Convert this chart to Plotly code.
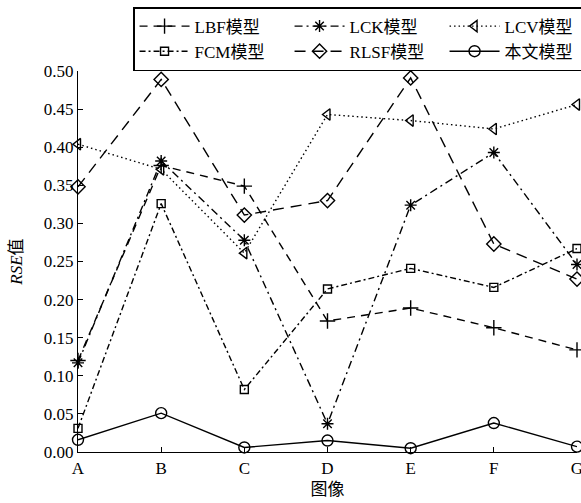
import plotly.graph_objects as go

categories = ["A", "B", "C", "D", "E", "F", "G"]
lbf = [0.120, 0.376, 0.349, 0.172, 0.189, 0.163, 0.134]
lck = [0.117, 0.382, 0.278, 0.037, 0.324, 0.393, 0.246]
lcv = [0.404, 0.371, 0.261, 0.443, 0.435, 0.424, 0.456]
fcm = [0.031, 0.326, 0.082, 0.214, 0.241, 0.216, 0.267]
rlsf = [0.348, 0.489, 0.311, 0.330, 0.491, 0.273, 0.227]
ours = [0.016, 0.051, 0.006, 0.015, 0.005, 0.038, 0.007]

series_names = ["LBF模型", "LCK模型", "LCV模型", "FCM模型", "RLSF模型", "本文模型"]
series_values = [lbf, lck, lcv, fcm, rlsf, ours]
dashes = ["8px,6px", "8px,4px,2px,4px", "1.5px,3px", "6px,3px,2px,3px", "11px,7px", "solid"]
symbols = ["cross-thin-open", "asterisk-open", "triangle-left-open", "square-open", "diamond-open", "circle-open"]
sizes = [11, 10, 10, 8, 11, 11]

serif = "Liberation Serif, Times New Roman, Noto Sans CJK SC, serif"

fig = go.Figure()
for name, vals, dash, sym, sz in zip(series_names, series_values, dashes, symbols, sizes):
    fig.add_trace(go.Scatter(
        x=categories, y=vals, name=name, mode="lines+markers",
        line=dict(color="black", width=1.4, dash=dash),
        marker=dict(symbol=sym, size=sz, color="black", line=dict(color="black", width=1.4)),
        cliponaxis=False,
    ))

fig.update_layout(
    width=581, height=503,
    margin=dict(l=78, r=4, t=70, b=51),
    paper_bgcolor="white", plot_bgcolor="white",
    font=dict(family=serif, size=16, color="black"),
    showlegend=True,
    legend=dict(
        orientation="h", xref="container", x=0.229, xanchor="left",
        yref="container", y=0.986, yanchor="top",
        bordercolor="black", borderwidth=1.5, bgcolor="white",
        font=dict(family=serif, size=17, color="black"),
        entrywidth=90, entrywidthmode="pixels",
        tracegroupgap=0, itemwidth=50,
    ),
    xaxis=dict(
        type="category", range=[0, 6], showline=True, linecolor="black", linewidth=1.3,
        ticks="inside", ticklen=5, tickcolor="black", tickwidth=1.3,
        showgrid=False, zeroline=False, automargin=False,
        tickfont=dict(family=serif, size=17),
        title=dict(text="图像", font=dict(family=serif, size=17), standoff=6),
    ),
    yaxis=dict(
        range=[0, 0.5], dtick=0.05, tickformat=".2f", showline=True, linecolor="black", linewidth=1.3,
        ticks="inside", ticklen=5, tickcolor="black", tickwidth=1.3,
        showgrid=False, zeroline=False, automargin=False,
        tickfont=dict(family=serif, size=17),
        title=dict(text="<i>RSE</i>值", font=dict(family=serif, size=17), standoff=16),
    ),
)

fig.write_html("out.html", config={"displayModeBar": False},
               post_script="document.body.style.margin='0';")
